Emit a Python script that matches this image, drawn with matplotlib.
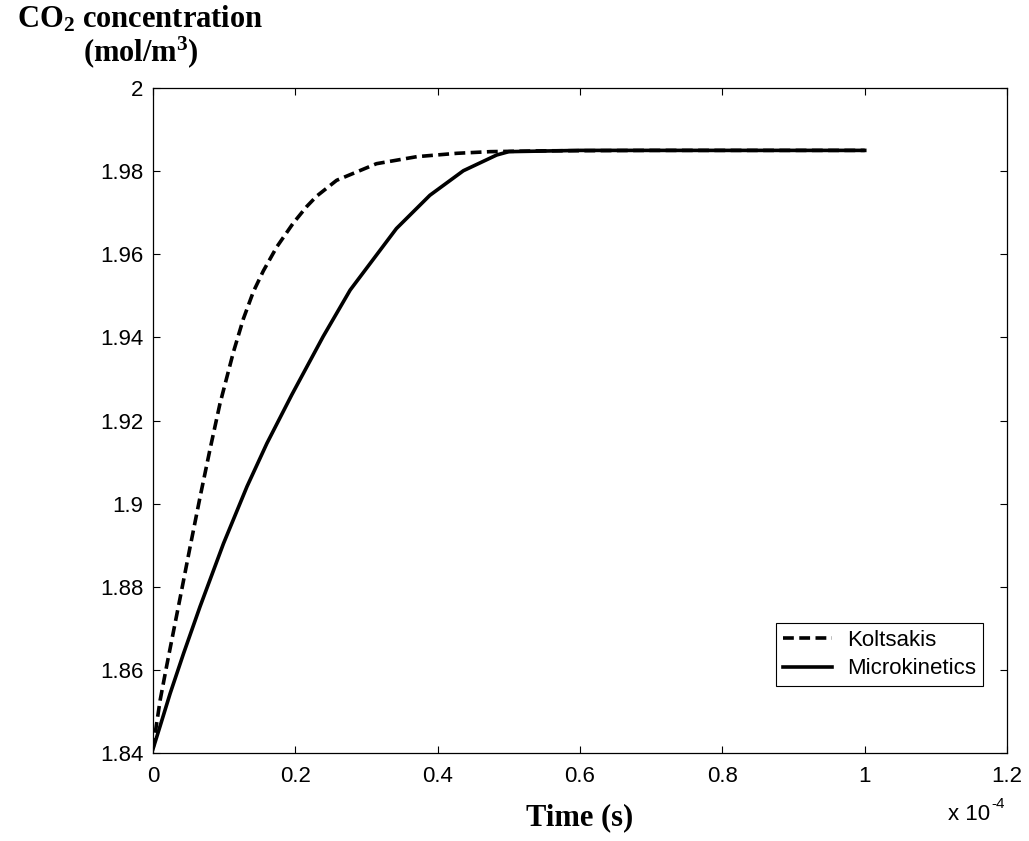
import numpy as np
import matplotlib
matplotlib.use("Agg")
import matplotlib.pyplot as plt

# Time in units of 1e-4 s, CO2 concentration in mol/m^3
t_koltsakis = [0, 0.003, 0.010, 0.019, 0.031, 0.040, 0.052, 0.066, 0.080, 0.094,
               0.113, 0.127, 0.141, 0.155, 0.174, 0.197, 0.216, 0.230, 0.258,
               0.314, 0.371, 0.427, 0.474, 0.55, 0.70, 0.85, 1.0]
c_koltsakis = [1.841, 1.8447, 1.8527, 1.8608, 1.8712, 1.8790, 1.8895, 1.9015, 1.9130,
               1.9240, 1.9365, 1.9445, 1.9510, 1.9560, 1.9618, 1.9675, 1.9715, 1.9740,
               1.9778, 1.9818, 1.9835, 1.9843, 1.9847, 1.9849, 1.985, 1.985, 1.985]

t_micro = [0, 0.010, 0.024, 0.043, 0.066, 0.099, 0.132, 0.160, 0.195,
           0.239, 0.277, 0.342, 0.389, 0.436, 0.483, 0.50, 0.60, 0.80, 1.0]
c_micro = [1.841, 1.8465, 1.8543, 1.864, 1.8752, 1.8904, 1.9041, 1.9145, 1.9262,
           1.9402, 1.9514, 1.9662, 1.9742, 1.9801, 1.9839, 1.9847,
           1.985, 1.985, 1.985]

x_ticks = [0, 0.2, 0.4, 0.6, 0.8, 1, 1.2]
x_tick_labels = ["0", "0.2", "0.4", "0.6", "0.8", "1", "1.2"]
y_ticks = [1.84, 1.86, 1.88, 1.90, 1.92, 1.94, 1.96, 1.98, 2.00]
y_tick_labels = ["1.84", "1.86", "1.88", "1.9", "1.92", "1.94", "1.96", "1.98", "2"]

plt.rcParams["mathtext.fontset"] = "custom"
plt.rcParams["mathtext.rm"] = "Liberation Serif:bold"
plt.rcParams["mathtext.bf"] = "Liberation Serif:bold"
plt.rcParams["mathtext.it"] = "Liberation Serif:bold"

sans = "Liberation Sans"
serif = "Liberation Serif"

fig = plt.figure(figsize=(10.29, 8.41), dpi=100)
ax = fig.add_axes([0.1487, 0.1046, 0.830, 0.7907])

ax.plot(t_koltsakis, c_koltsakis, color="black", lw=2.6, linestyle=(0, (3.0, 1.5)),
        dash_joinstyle="round", label="Koltsakis")
ax.plot(t_micro, c_micro, color="black", lw=2.6, linestyle="-",
        solid_joinstyle="round", label="Microkinetics")

ax.set_xlim(0, 1.2)
ax.set_ylim(1.84, 2.0)
ax.set_xticks(x_ticks)
ax.set_xticklabels(x_tick_labels)
ax.set_yticks(y_ticks)
ax.set_yticklabels(y_tick_labels)
ax.tick_params(direction="in", length=5, width=0.8, top=True, right=True,
               labelsize=16)
ax.tick_params(axis="x", pad=9)
ax.tick_params(axis="y", pad=7)
for lbl in ax.get_xticklabels() + ax.get_yticklabels():
    lbl.set_fontfamily(sans)
for sp in ax.spines.values():
    sp.set_linewidth(0.9)

leg = ax.legend(loc="upper right", bbox_to_anchor=(0.9719, 0.1955), borderaxespad=0,
                fancybox=False, framealpha=1, edgecolor="black",
                prop={"family": sans, "size": 16}, handlelength=2.2,
                handletextpad=0.7, labelspacing=0.35, borderpad=0.3)
leg.get_frame().set_linewidth(0.8)

# Axis labels
fig.text(140 / 1029, 1 - 28 / 841, r"CO$_2$ concentration", ha="center",
         va="baseline", fontsize=22, fontfamily=serif, fontweight="bold")
fig.text(141 / 1029, 1 - 61 / 841, r"(mol/m$^3$)", ha="center",
         va="baseline", fontsize=22, fontfamily=serif, fontweight="bold")
fig.text(580 / 1029, 1 - 825 / 841, "Time (s)", ha="center", va="baseline",
         fontsize=22, fontfamily=serif, fontweight="bold")

# Exponent for the time axis
fig.text(990 / 1029, 1 - 820 / 841, "x 10", ha="right", va="baseline",
         fontsize=16, fontfamily=sans)
fig.text(991 / 1029, 1 - 808 / 841, "-4", ha="left", va="baseline",
         fontsize=11, fontfamily=sans)

fig.savefig("out.png", dpi=100)
